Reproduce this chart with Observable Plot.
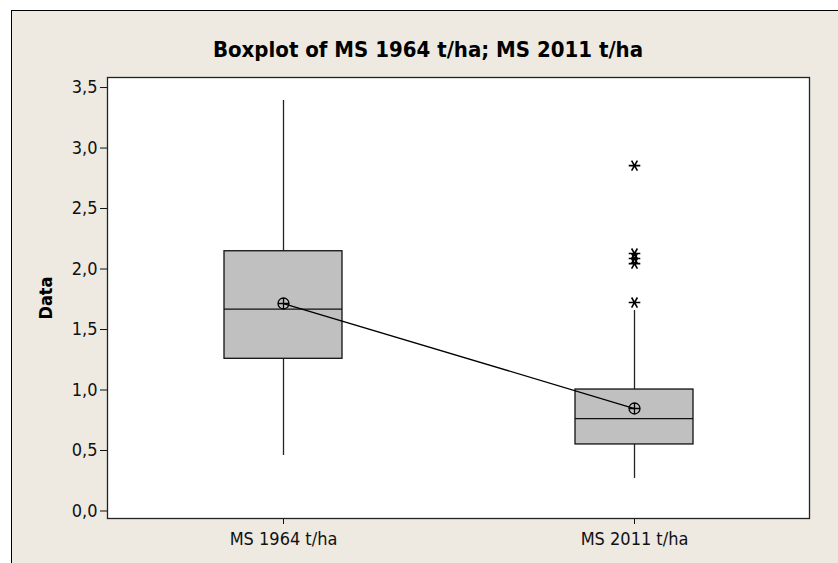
<!DOCTYPE html>
<html><head><meta charset="utf-8">
<script src="https://cdn.jsdelivr.net/npm/d3@7"></script>
<script src="https://cdn.jsdelivr.net/npm/@observablehq/plot@0.6"></script>
<style>
body{margin:0;background:#fff;}
#wrap{position:relative;width:838px;height:563px;overflow:hidden;}
#panel{position:absolute;left:11px;top:10px;width:880px;height:600px;background:#EEEAE1;border:1px solid #000;box-sizing:border-box;}
#title{position:absolute;left:0;width:856px;top:39px;line-height:22px;text-align:center;font-weight:bold;font-size:22px;font-family:"DejaVu Sans Condensed","DejaVu Sans",sans-serif;color:#000;}
#chart{position:absolute;left:0;top:0;}
</style></head><body>
<div id="wrap"><div id="panel"></div><div id="title">Boxplot of MS 1964 t/ha; MS 2011 t/ha</div><div id="chart"></div></div>
<script>
const categories = ["MS 1964 t/ha", "MS 2011 t/ha"];
const q1Values = [1.258, 0.55];
const medianValues = [1.668, 0.764];
const q3Values = [2.147, 1.004];
const whiskerLow = [0.459, 0.269];
const whiskerHigh = [3.393, 1.657];
const meanValues = [1.715, 0.847];
const outlierCategories = ["MS 2011 t/ha", "MS 2011 t/ha", "MS 2011 t/ha", "MS 2011 t/ha", "MS 2011 t/ha"];
const outlierValues = [2.855, 2.128, 2.087, 2.045, 1.723];
const yTicks = [0, 0.5, 1, 1.5, 2, 2.5, 3, 3.5];

const boxes = categories.map((c, i) => ({
  cat: c, q1: q1Values[i], med: medianValues[i], q3: q3Values[i],
  lo: whiskerLow[i], hi: whiskerHigh[i], mean: meanValues[i]
}));
const outliers = outlierValues.map((v, i) => ({cat: outlierCategories[i], v}));

const circlePlus = {
  draw(ctx, size) {
    const r = Math.sqrt(size / Math.PI);
    ctx.moveTo(r, 0); ctx.arc(0, 0, r, 0, 2 * Math.PI);
    ctx.moveTo(-r, 0); ctx.lineTo(r, 0);
    ctx.moveTo(0, -r); ctx.lineTo(0, r);
  }
};
const asterisk = {
  draw(ctx, size) {
    const r = Math.sqrt(size / Math.PI);
    for (const a of [0, Math.PI / 3, 2 * Math.PI / 3]) {
      const dx = r * Math.cos(a), dy = r * Math.sin(a);
      ctx.moveTo(-dx, -dy); ctx.lineTo(dx, dy);
    }
  }
};

const fmt = d => d3.format(".1f")(d).replace(".", ",");
const font = '"DejaVu Sans Condensed","DejaVu Sans",sans-serif';

const chart = Plot.plot({
  width: 838, height: 563,
  marginTop: 77, marginRight: 29, marginBottom: 45, marginLeft: 107,
  style: {background: "transparent", fontFamily: font, fontSize: "18px", color: "#111"},
  x: {domain: categories, paddingInner: 0.664, paddingOuter: 0.332, tickSize: 6, tickPadding: 8, label: null},
  y: {domain: [-0.062, 3.583], ticks: yTicks, tickFormat: fmt, tickSize: 7, tickPadding: 3, label: null},
  marks: [
    Plot.frame({fill: "white"}),
    Plot.ruleX(boxes, {x: "cat", y1: "q3", y2: "hi", stroke: "#222", strokeWidth: 1.3}),
    Plot.ruleX(boxes, {x: "cat", y1: "lo", y2: "q1", stroke: "#222", strokeWidth: 1.3}),
    Plot.barY(boxes, {x: "cat", y1: "q1", y2: "q3", fill: "#C0C0C0", stroke: "#111", strokeWidth: 1.3}),
    Plot.tickY(boxes, {x: "cat", y: "med", stroke: "#111", strokeWidth: 1.3}),
    Plot.line(boxes, {x: "cat", y: "mean", stroke: "#000", strokeWidth: 1.3}),
    Plot.dot(boxes, {x: "cat", y: "mean", symbol: circlePlus, r: 5.5, stroke: "#000", fill: "none", strokeWidth: 1.3}),
    Plot.dot(outliers, {x: "cat", y: "v", symbol: asterisk, r: 5.8, stroke: "#000", strokeWidth: 1.6}),
    Plot.frame({stroke: "#222", strokeWidth: 1.3}),
    Plot.text(["Data"], {frameAnchor: "left", dx: -61, rotate: -90, textAnchor: "middle", fontWeight: "bold", fontSize: 18, fill: "#000"})
  ]
});
document.getElementById("chart").appendChild(chart);
</script>
</body></html>
